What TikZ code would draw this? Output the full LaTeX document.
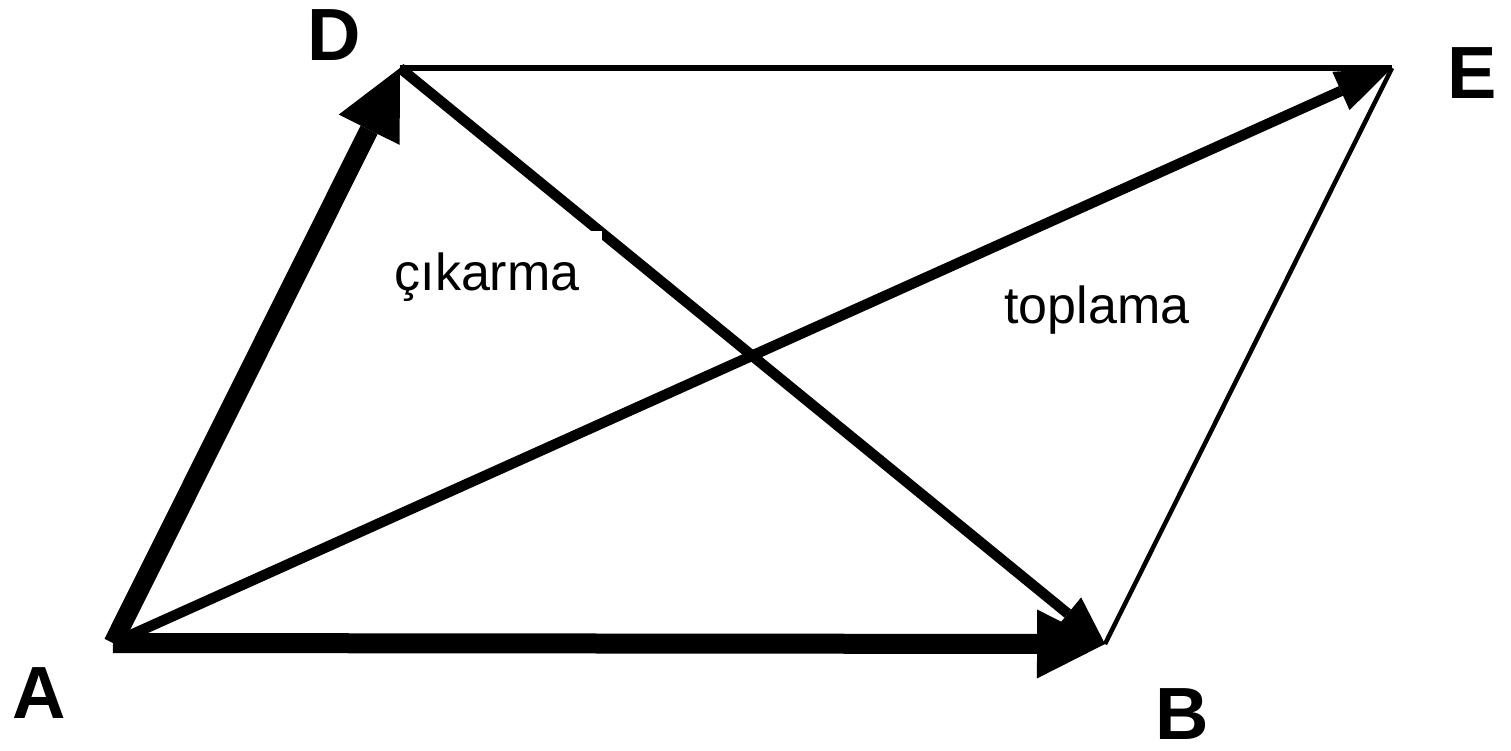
\documentclass[tikz,border=0pt]{standalone}
\usepackage{fontspec}
\setmainfont{Liberation Sans}
\usetikzlibrary{arrows.meta}
\begin{document}
\begin{tikzpicture}[x=1pt,y=-1pt,
  lbl/.style={font=\fontsize{74}{80}\selectfont\bfseries, inner sep=0pt, anchor=base},
  word/.style={font=\fontsize{52}{60}\selectfont, fill=white, inner sep=0pt, anchor=base},
  vec/.style={line cap=butt, line join=miter}]
\useasboundingbox (0,0) rectangle (1511,750);
\coordinate (A) at (113,643);
\coordinate (B) at (1105,644);
\coordinate (D) at (400,68);
\coordinate (E) at (1392,68);
% thin sides
\draw[vec, line width=6pt] (D) -- (E);
\draw[vec, line width=4.5pt] (B) -- (E);
% diagonals
\draw[vec, line width=10.5pt, -{Triangle[length=56pt,width=42pt,line width=0pt]}] (A) -- (E);
\draw[vec, line width=10.5pt, -{Triangle[length=48pt,width=42pt,line width=0pt]}] (D) -- (B);
% thick vectors
\draw[vec, line width=19pt, -{Triangle[length=69pt,width=68pt,line width=0pt]}] (A) -- (D);
\draw[vec, line width=20pt, -{Triangle[length=68pt,width=69pt,line width=0pt]}] (A) -- (B);
% words
\node[word, minimum width=230pt, text height=59pt, text depth=23pt] (cik) at (487,290) {çıkarma};
\node[word, minimum width=234pt, text height=60pt, text depth=15pt] (top) at (1097,323) {toplama};
% point labels
\node[lbl] (lA) at (39,718) {A};
\node[lbl] (lB) at (1182,739) {B};
\node[lbl] (lD) at (334,60) {D};
\node[lbl] (lE) at (1472,98) {E};
\end{tikzpicture}
\end{document}
